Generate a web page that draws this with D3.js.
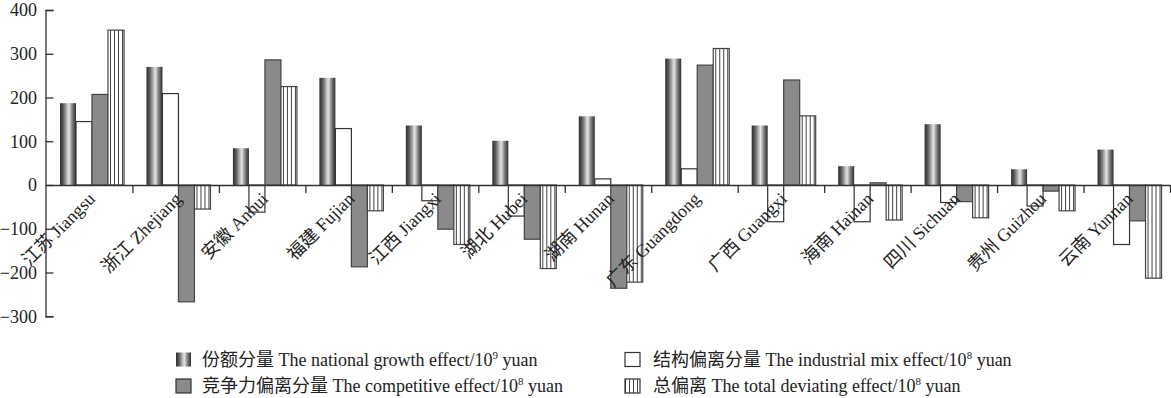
<!DOCTYPE html>
<html>
<head>
<meta charset="utf-8">
<script src="https://cdn.jsdelivr.net/npm/d3@7"></script>
<style>
  body { margin: 0; background: #fff; }
  svg text { font-family: "Liberation Serif", "Noto Sans CJK SC", serif; fill: #222; }
</style>
</head>
<body>
<div id="chart"></div>
<script>
const provinces = ["江苏 Jiangsu", "浙江 Zhejiang", "安徽 Anhui", "福建 Fujian", "江西 Jiangxi", "湖北 Hubei",
  "湖南 Hunan", "广东 Guangdong", "广西 Guangxi", "海南 Hainan", "四川 Sichuan", "贵州 Guizhou", "云南 Yunnan"];
const seriesKeys = ["growth", "mix", "competitive", "total"];
const growth      = [187, 270, 84, 245, 136, 101, 157, 289, 136, 43, 139, 36, 81];
const mix         = [145, 209, -62, 129, -36, -71, 14, 37, -84, -84, -40, -48, -136];
const competitive = [207, -267, 286, -187, -101, -124, -236, 274, 240, 5, -38, -14, -82];
const total       = [354, -55, 225, -59, -136, -191, -222, 312, 158, -80, -75, -59, -213];
const yTicks = [-300, -200, -100, 0, 100, 200, 300, 400];
const legendItems = [
  { key: "growth", label: "份额分量 The national growth effect/10", sup: "9" },
  { key: "mix", label: "结构偏离分量 The industrial mix effect/10", sup: "8" },
  { key: "competitive", label: "竞争力偏离分量 The competitive effect/10", sup: "8" },
  { key: "total", label: "总偏离 The total deviating effect/10", sup: "8" }
];

const values = { growth, mix, competitive, total };
const data = provinces.map((p, i) => ({ name: p, vals: seriesKeys.map(k => ({ key: k, v: values[k][i] })) }));

const W = 1171, H = 398;
const svg = d3.select("#chart").append("svg").attr("width", W).attr("height", H);

const defs = svg.append("defs");
const grad = defs.append("linearGradient").attr("id", "cyl").attr("x1", "0").attr("x2", "1").attr("y1", "0").attr("y2", "0");
[[0, "#2e2e2e"], [0.2, "#5a5a5a"], [0.55, "#e6e6e6"], [0.78, "#7a7a7a"], [1, "#2e2e2e"]]
  .forEach(([o, c]) => grad.append("stop").attr("offset", o).attr("stop-color", c));
const pat = defs.append("pattern").attr("id", "vstripe").attr("patternUnits", "userSpaceOnUse")
  .attr("width", 4).attr("height", 4);
pat.append("rect").attr("width", 4).attr("height", 4).attr("fill", "#fff");
pat.append("line").attr("x1", 0.5).attr("x2", 0.5).attr("y1", 0).attr("y2", 4).attr("stroke", "#444").attr("stroke-width", 1);

const fills = { growth: "url(#cyl)", mix: "#fff", competitive: "#8a8a8a", total: "url(#vstripe)" };
const strokes = { growth: "none", mix: "#333", competitive: "#444", total: "#444" };

const x0 = d3.scaleBand().domain(provinces).range([46, 1170]).padding(0);
const x1 = d3.scaleBand().domain(seriesKeys).range([14, 78]);
const y = d3.scaleLinear().domain([-300, 400]).range([316.25, 10]);

// bars
const groups = svg.selectAll(".grp").data(data).enter().append("g")
  .attr("transform", d => "translate(" + x0(d.name) + ",0)");
groups.selectAll("rect").data(d => d.vals).enter().append("rect")
  .attr("x", d => x1(d.key))
  .attr("width", x1.bandwidth())
  .attr("y", d => y(Math.max(0, d.v)))
  .attr("height", d => Math.abs(y(d.v) - y(0)))
  .attr("fill", d => fills[d.key])
  .attr("stroke", d => strokes[d.key])
  .attr("stroke-width", 1.2);

// y axis
const yAxis = svg.append("g").attr("transform", "translate(45.5,0)")
  .call(d3.axisLeft(y).tickValues(yTicks).tickSize(-8).tickPadding(8.5)
    .tickFormat(d => d < 0 ? "\u2212" + Math.abs(d) : d));
yAxis.selectAll("text").style("font-size", "18px").style("fill", "#222");
yAxis.selectAll("path, line").attr("stroke", "#333").attr("stroke-width", 1.3);

// x axis along zero
const xi = d3.scaleLinear().domain([0, provinces.length]).range([46, 1170]);
const xAxis = svg.append("g").attr("transform", "translate(0," + y(0) + ")")
  .call(d3.axisBottom(xi).tickValues(d3.range(1, provinces.length + 1)).tickSize(8).tickSizeOuter(0).tickFormat(""));
xAxis.selectAll("path, line").attr("stroke", "#333").attr("stroke-width", 1.3);

// category labels
svg.selectAll(".cat").data(provinces).enter().append("text")
  .attr("transform", d => "translate(" + (x0(d) + x0.bandwidth() / 2 + 7) + ",200) rotate(-45)")
  .attr("text-anchor", "end")
  .style("font-size", "18px")
  .text(d => d);

// legend
const legPos = [[176, 359.5], [625, 359.5], [176, 386], [625, 386]];
const leg = svg.selectAll(".leg").data(legendItems).enter().append("g")
  .attr("transform", (d, i) => "translate(" + legPos[i][0] + "," + legPos[i][1] + ")");
leg.append("rect").attr("x", 0).attr("y", -7).attr("width", 15).attr("height", 14)
  .attr("fill", d => fills[d.key]).attr("stroke", d => strokes[d.key] === "none" ? "none" : "#333").attr("stroke-width", 1.2);
const lt = leg.append("text").attr("x", d => d.key === "growth" || d.key === "competitive" ? 26 : 28).attr("y", 6)
  .style("font-size", "18px");
lt.append("tspan").text(d => d.label);
lt.append("tspan").attr("dy", -7).style("font-size", "11px").text(d => d.sup);
lt.append("tspan").attr("dy", 7).text(" yuan");
</script>
</body>
</html>
